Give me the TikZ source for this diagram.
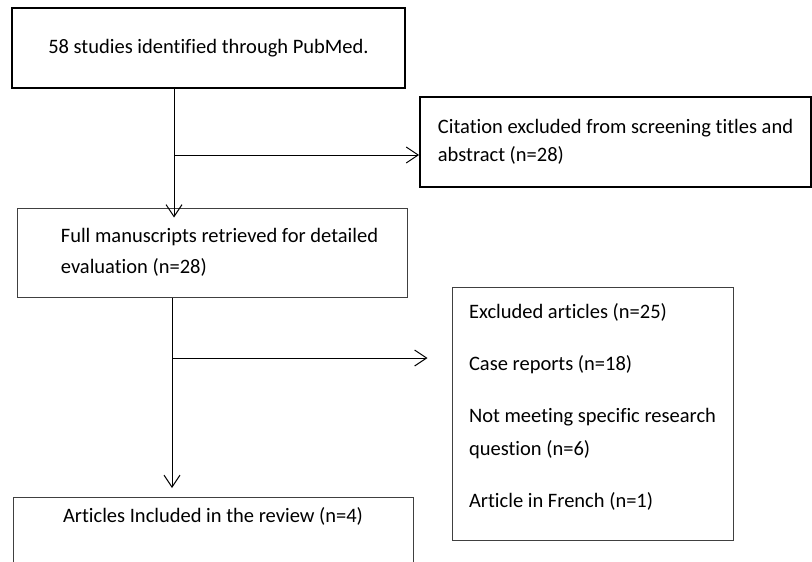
\documentclass[tikz,border=0pt]{standalone}
\usepackage{fontspec}
\setmainfont{Carlito}[Ligatures=NoCommon]
\usetikzlibrary{arrows.meta}
\tikzset{
  box/.style={draw=black!75, line width=1pt, inner sep=0pt, align=left,
    font=\fontsize{20.5}{31}\selectfont},
  thickbox/.style={box, draw=black, line width=1.8pt},
  arr/.style={-{Straight Barb[length=12pt, width=16pt]}, line width=1pt},
}
\begin{document}
\begin{tikzpicture}[x=1pt, y=-1pt]
	\path[use as bounding box, clip] (0,0) rectangle (812,562);

	\node (src) [thickbox, minimum width=393, minimum height=80, align=center] at (208.5,48) {58 studies identified through PubMed.};
	\node (cit) [thickbox, minimum width=391, minimum height=90, font=\fontsize{20.5}{28}\selectfont] at (615.5,142) {Citation excluded from screening titles and\\abstract (n=28)};
	\node (ful) [box, minimum width=390, minimum height=89] at (212,252.5) {\hspace*{15pt}Full manuscripts retrieved for detailed\\\hspace*{15pt}evaluation (n=28)};
	\node (exc) [box, minimum width=281, minimum height=253, font=\fontsize{20.5}{33}\selectfont] at (592.5,413.5) {Excluded articles (n=25)\\[19pt]Case reports (n=18)\\[19pt]Not meeting specific research\\question (n=6)\\[19pt]Article in French (n=1)\\[-17pt]\mbox{}};
	\node (inc) [box, minimum width=400, anchor=north, align=center, inner ysep=10pt] at (213,497) {Articles Included in the review (n=4)\\[40pt]\mbox{}};

	\coordinate (j1) at (174,155);
	\coordinate (j2) at (172,358);
	\draw [arr] (j1 |- src.south) -- ([yshift=-10pt]j1 |- ful.north);
	\draw [arr] (j1) -- (j1 -| cit.west);
	\draw [arr] (j2 |- ful.south) -- ([yshift=9pt]j2 |- inc.north);
	\draw [arr] (j2) -- ([xshift=-24pt]j2 -| exc.west);
\end{tikzpicture}
\end{document}
